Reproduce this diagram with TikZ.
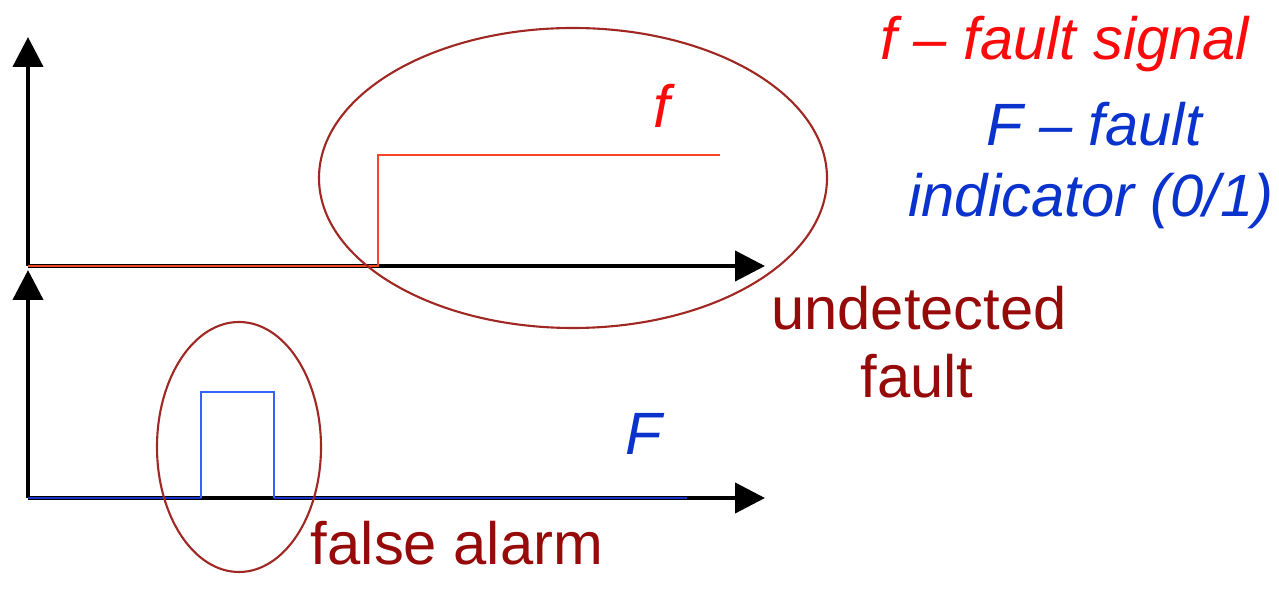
\documentclass[tikz,border=0pt]{standalone}
\usepackage{fontspec}
\setmainfont{Liberation Sans}
\usetikzlibrary{arrows.meta}
\usetikzlibrary{positioning}

\definecolor{sigred}{RGB}{245,70,40}
\definecolor{txtred}{RGB}{250,10,10}
\definecolor{sigblue}{RGB}{50,100,245}
\definecolor{lowblue}{RGB}{25,50,200}
\definecolor{txtblue}{RGB}{10,50,205}
\definecolor{darkred}{RGB}{150,10,10}
\definecolor{ringred}{RGB}{160,40,35}

\tikzset{
  axis/.style={line width=2.4pt, -{Triangle[length=17pt,width=17pt]}},
  ring/.style={ringred, line width=1.2pt},
  lbl/.style={font=\fontsize{34}{39}\selectfont, inner sep=0pt, anchor=base},
}

\begin{document}
\begin{tikzpicture}[x=0.02cm,y=-0.02cm]
            \useasboundingbox (0,0) rectangle (1279,590);

            \coordinate (O1) at (28,266);
            \coordinate (Y1) at (28,37);
            \coordinate (X1) at (765,266);
            \coordinate (O2) at (28,498);
            \coordinate (Y2) at (28,270);
            \coordinate (X2) at (765,498);

            \coordinate (S1) at (378,266);
            \coordinate (S2) at (378,155);
            \coordinate (S3) at (720,155);

            \coordinate (P1) at (201,498);
            \coordinate (P2) at (201,392);
            \coordinate (P3) at (274,392);
            \coordinate (P4) at (274,498);
            \coordinate (P5) at (687,498);

            \draw[axis] (O1)--(Y1);
            \draw[axis] (O1)--(X1);
            \draw[axis] (O2)--(Y2);
            \draw[axis] (O2)--(X2);

            \draw[sigred, line width=1.6pt] (O1)--(S1)--(S2)--(S3);
            \draw[lowblue, line width=1.6pt] (O2)--(P1);
            \draw[lowblue, line width=1.6pt] (P4)--(P5);
            \draw[sigblue, line width=1.6pt] (P1)--(P2)--(P3)--(P4);

            \draw[ring] (573,178) ellipse [x radius=254, y radius=150];
            \draw[ring] (239,447) ellipse [x radius=82, y radius=125];

            \node[lbl, txtred] (flbl) at (662,128) {\itshape f};
            \node[lbl, txtblue] (Flbl) at (644,455) {\itshape F};

            \node[lbl, darkred] (undet) at (919,330) {undetected};
            \node[lbl, darkred] (fault) at (917,398) {fault};
            \node[lbl, darkred] (alarm) at (457,565) {false alarm};

            \node[lbl, txtred] (fsig) at (1065,60) {\itshape f – fault signal};
            \node[lbl, txtblue] (Fsig) at (1094,146) {\itshape F – fault};
            \node[lbl, txtblue] (Find) at (1091,217) {\itshape indicator (0/1)};
        \end{tikzpicture}
\end{document}
